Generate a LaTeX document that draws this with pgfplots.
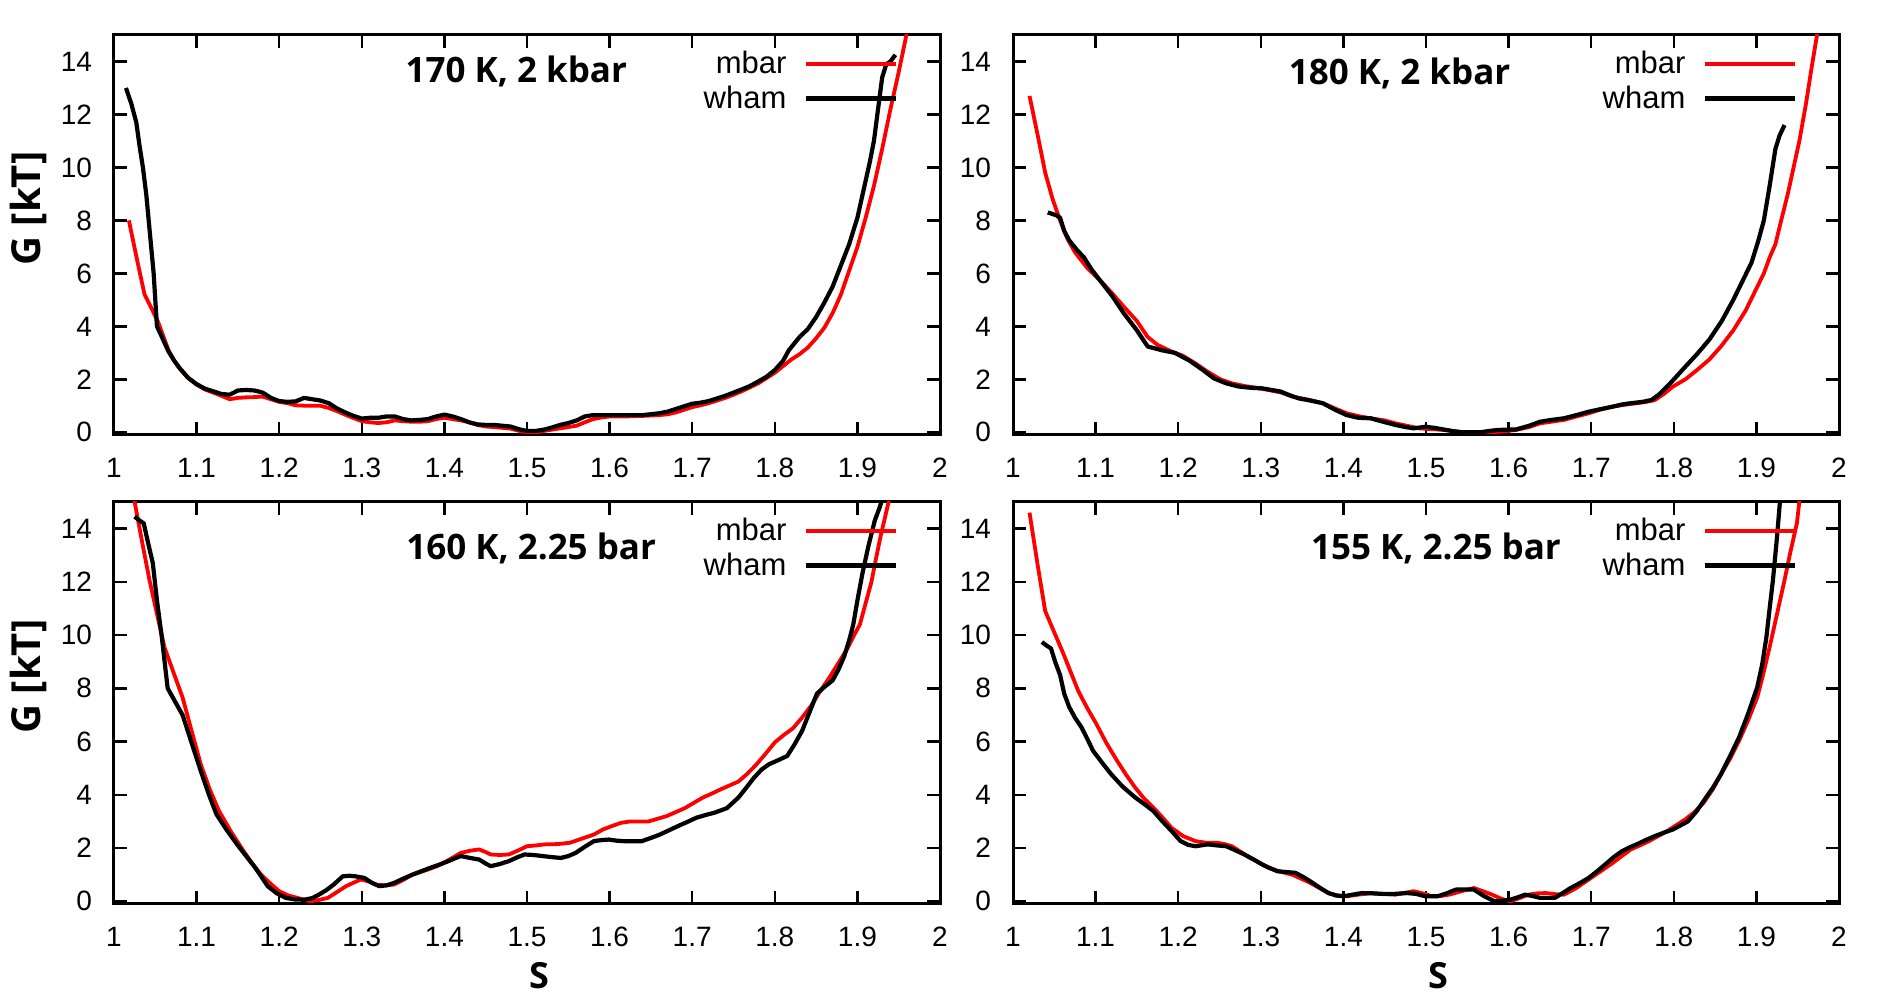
\documentclass[border=0pt]{standalone}
\usepackage{fontspec}
\setmainfont{Liberation Sans}
\newfontfamily\osans{Open Sans}
\usepackage{pgfplots}
\pgfplotsset{compat=1.18}
\definecolor{gred}{RGB}{255,0,0}
\newcommand{\ttlfont}{\osans\bfseries\fontsize{17.5}{20}\selectfont}
\newcommand{\ylfont}{\osans\bfseries\fontsize{20}{22}\selectfont}
\newcommand{\xlfont}{\osans\bfseries\fontsize{18}{20}\selectfont}
\pgfplotsset{
  gp/.style={
    scale only axis, width=413pt,
    xmin=1, xmax=2, ymin=-0.1, ymax=15,
    xtick={1,1.1,1.2,1.3,1.4,1.5,1.6,1.7,1.8,1.9,2},
    ytick={0,2,4,6,8,10,12,14},
    tick align=inside,
    axis line style={line width=1.5pt},
    every tick/.style={black, line width=1.2pt},
    major tick length=6.5pt,
    tick label style={font=\fontsize{14}{16}\selectfont},
    /pgf/number format/assume math mode=true,
    xticklabel style={yshift=-8pt},
    yticklabel style={xshift=-7.5pt},
    legend plot pos=right,
    legend cell align=right,
    legend style={draw=none, fill=none, at={(axis description cs:1,1)}, anchor=north east,
      xshift=-18pt, yshift=-4pt, font=\fontsize{15.5}{18}\selectfont, row sep=0.5pt,
      /tikz/every odd column/.style={column sep=6.5pt}},
    legend image code/.code={\draw[#1] (0pt,0pt) -- (45pt,0pt);},
    every axis plot/.append style={line width=2pt, line join=round},
    ylabel style={font=\ylfont, at={(axis description cs:-0.104,0.566)}, anchor=center},
    xlabel style={font=\xlfont, at={(axis description cs:0.515,-0.179)}, anchor=center},
  },
  mb/.style={gred, line width=1.9pt},
  wh/.style={black, line width=2.1pt},
}
\begin{document}
\begin{tikzpicture}
\useasboundingbox (0,0) rectangle (948pt,497pt);
% ---------------- top left
\begin{axis}[gp, at={(57pt,279.5pt)}, anchor=south west, height=200pt, ylabel={G [kT]}]
\addplot[mb] coordinates {(1.018,8.0)(1.028,6.5)(1.037,5.2)(1.045,4.7)(1.053,4.2)(1.06,3.6)(1.066,3.1)(1.073,2.7)(1.08,2.4)(1.09,2.05)(1.1,1.8)(1.11,1.62)(1.12,1.5)(1.13,1.38)(1.14,1.25)(1.15,1.3)(1.16,1.32)(1.17,1.33)(1.18,1.35)(1.19,1.25)(1.2,1.15)(1.21,1.1)(1.22,1.02)(1.235,1.0)(1.25,1.0)(1.26,0.92)(1.27,0.8)(1.285,0.6)(1.3,0.42)(1.31,0.38)(1.32,0.35)(1.33,0.38)(1.34,0.45)(1.35,0.42)(1.36,0.4)(1.37,0.4)(1.38,0.42)(1.39,0.5)(1.4,0.55)(1.41,0.5)(1.42,0.45)(1.43,0.38)(1.44,0.28)(1.45,0.22)(1.46,0.2)(1.47,0.17)(1.48,0.14)(1.49,0.06)(1.5,0.0)(1.51,0.0)(1.52,0.05)(1.53,0.1)(1.54,0.15)(1.55,0.2)(1.56,0.25)(1.57,0.38)(1.58,0.5)(1.59,0.56)(1.6,0.6)(1.62,0.6)(1.64,0.62)(1.66,0.65)(1.67,0.68)(1.68,0.75)(1.69,0.85)(1.7,0.95)(1.71,1.02)(1.72,1.1)(1.73,1.2)(1.74,1.3)(1.75,1.42)(1.76,1.55)(1.77,1.7)(1.78,1.85)(1.79,2.05)(1.8,2.25)(1.81,2.5)(1.82,2.75)(1.83,2.95)(1.84,3.2)(1.85,3.55)(1.86,3.95)(1.87,4.5)(1.88,5.2)(1.89,6.1)(1.9,7.0)(1.91,8.1)(1.92,9.3)(1.93,10.7)(1.94,12.2)(1.95,13.6)(1.96,15.1)(1.962,15.5)};
\addlegendentry{mbar}
\addplot[wh] coordinates {(1.0145,13.0)(1.021,12.4)(1.027,11.7)(1.031,10.8)(1.035,10.0)(1.039,9.0)(1.042,8.0)(1.045,7.0)(1.048,6.0)(1.05,5.0)(1.052,4.0)(1.058,3.6)(1.066,3.05)(1.073,2.7)(1.08,2.4)(1.09,2.05)(1.1,1.82)(1.11,1.65)(1.12,1.55)(1.13,1.45)(1.14,1.42)(1.15,1.58)(1.16,1.6)(1.17,1.58)(1.18,1.5)(1.19,1.3)(1.2,1.18)(1.21,1.15)(1.22,1.17)(1.23,1.3)(1.24,1.25)(1.25,1.2)(1.26,1.1)(1.27,0.9)(1.28,0.75)(1.29,0.62)(1.3,0.52)(1.31,0.55)(1.32,0.55)(1.33,0.6)(1.34,0.6)(1.35,0.5)(1.36,0.45)(1.37,0.47)(1.38,0.5)(1.39,0.6)(1.4,0.67)(1.41,0.6)(1.42,0.5)(1.43,0.38)(1.44,0.3)(1.45,0.28)(1.46,0.28)(1.47,0.25)(1.48,0.22)(1.49,0.12)(1.5,0.05)(1.51,0.05)(1.52,0.1)(1.53,0.18)(1.54,0.28)(1.55,0.35)(1.56,0.45)(1.57,0.6)(1.58,0.65)(1.6,0.65)(1.62,0.65)(1.64,0.65)(1.66,0.72)(1.67,0.78)(1.68,0.88)(1.69,0.98)(1.7,1.08)(1.71,1.12)(1.72,1.18)(1.73,1.28)(1.74,1.38)(1.75,1.5)(1.76,1.62)(1.77,1.75)(1.78,1.92)(1.79,2.1)(1.8,2.35)(1.81,2.7)(1.817,3.1)(1.83,3.6)(1.84,3.9)(1.85,4.35)(1.86,4.9)(1.87,5.5)(1.88,6.3)(1.89,7.1)(1.9,8.1)(1.91,9.5)(1.915,10.2)(1.92,11.0)(1.925,12.2)(1.93,13.4)(1.935,13.9)(1.94,14.0)(1.946,14.25)};
\addlegendentry{wham}
\node[font=\ttlfont, anchor=base] at (axis description cs:0.487,0.88) {170 K, 2 kbar};
\end{axis}
% ---------------- top right
\begin{axis}[gp, at={(506.5pt,279.5pt)}, anchor=south west, height=200pt]
\addplot[mb] coordinates {(1.02,12.7)(1.03,11.2)(1.039,9.8)(1.048,8.8)(1.057,8.0)(1.066,7.3)(1.075,6.8)(1.09,6.2)(1.105,5.75)(1.12,5.25)(1.134,4.75)(1.15,4.2)(1.163,3.6)(1.175,3.3)(1.192,3.05)(1.205,2.9)(1.221,2.6)(1.235,2.3)(1.251,2.0)(1.265,1.85)(1.28,1.75)(1.295,1.68)(1.309,1.6)(1.325,1.5)(1.338,1.35)(1.355,1.25)(1.375,1.1)(1.39,0.9)(1.404,0.72)(1.42,0.6)(1.433,0.53)(1.45,0.45)(1.463,0.34)(1.478,0.24)(1.492,0.15)(1.507,0.12)(1.521,0.09)(1.535,0.04)(1.55,0.0)(1.58,0.0)(1.595,0.04)(1.609,0.09)(1.625,0.2)(1.638,0.34)(1.652,0.4)(1.667,0.47)(1.68,0.58)(1.697,0.72)(1.71,0.85)(1.726,0.97)(1.74,1.04)(1.755,1.1)(1.767,1.15)(1.777,1.22)(1.788,1.45)(1.799,1.73)(1.814,2.0)(1.828,2.35)(1.843,2.75)(1.857,3.24)(1.872,3.85)(1.887,4.6)(1.898,5.3)(1.909,6.0)(1.916,6.6)(1.923,7.1)(1.93,8.0)(1.938,9.0)(1.945,10.0)(1.952,11.0)(1.96,12.4)(1.967,13.8)(1.975,15.3)};
\addlegendentry{mbar}
\addplot[wh] coordinates {(1.042,8.3)(1.052,8.2)(1.057,8.1)(1.062,7.6)(1.068,7.25)(1.077,6.9)(1.086,6.6)(1.095,6.15)(1.105,5.75)(1.12,5.15)(1.134,4.5)(1.15,3.85)(1.163,3.24)(1.18,3.1)(1.196,3.0)(1.205,2.85)(1.214,2.7)(1.23,2.35)(1.243,2.04)(1.258,1.85)(1.273,1.73)(1.288,1.68)(1.302,1.66)(1.313,1.6)(1.324,1.54)(1.335,1.4)(1.346,1.28)(1.36,1.2)(1.375,1.1)(1.39,0.85)(1.404,0.65)(1.418,0.55)(1.433,0.53)(1.448,0.4)(1.463,0.28)(1.475,0.2)(1.485,0.15)(1.499,0.21)(1.51,0.17)(1.521,0.11)(1.532,0.05)(1.543,0.0)(1.565,0.0)(1.576,0.05)(1.587,0.09)(1.609,0.11)(1.625,0.25)(1.638,0.4)(1.652,0.47)(1.667,0.53)(1.682,0.65)(1.697,0.78)(1.712,0.88)(1.726,0.97)(1.737,1.05)(1.748,1.1)(1.762,1.15)(1.773,1.22)(1.783,1.45)(1.792,1.73)(1.803,2.1)(1.814,2.48)(1.828,2.95)(1.843,3.5)(1.858,4.2)(1.872,5.0)(1.883,5.7)(1.894,6.4)(1.902,7.2)(1.909,8.0)(1.916,9.3)(1.923,10.7)(1.928,11.2)(1.934,11.6)};
\addlegendentry{wham}
\node[font=\ttlfont, anchor=base] at (axis description cs:0.468,0.875) {180 K, 2 kbar};
\end{axis}
% ---------------- bottom left
\begin{axis}[gp, at={(57pt,45pt)}, anchor=south west, height=201pt, ylabel={G [kT]}, xlabel={S}]
\addplot[mb] coordinates {(1.023,15.5)(1.025,15.0)(1.034,13.5)(1.043,12.06)(1.052,10.8)(1.061,9.55)(1.072,8.6)(1.083,7.66)(1.094,6.4)(1.105,5.15)(1.116,4.2)(1.127,3.4)(1.142,2.6)(1.157,1.88)(1.168,1.4)(1.178,1.0)(1.19,0.65)(1.2,0.38)(1.211,0.22)(1.222,0.13)(1.237,0.0)(1.248,0.05)(1.259,0.13)(1.27,0.35)(1.281,0.57)(1.29,0.7)(1.299,0.82)(1.308,0.75)(1.317,0.63)(1.328,0.6)(1.339,0.63)(1.35,0.8)(1.361,1.0)(1.376,1.15)(1.391,1.32)(1.405,1.55)(1.42,1.82)(1.431,1.9)(1.442,1.95)(1.45,1.85)(1.456,1.76)(1.467,1.74)(1.478,1.76)(1.49,1.92)(1.5,2.07)(1.511,2.1)(1.522,2.14)(1.537,2.15)(1.552,2.2)(1.566,2.35)(1.581,2.51)(1.592,2.7)(1.603,2.83)(1.614,2.95)(1.625,3.0)(1.647,3.0)(1.658,3.1)(1.669,3.2)(1.68,3.35)(1.691,3.5)(1.702,3.7)(1.713,3.9)(1.724,4.05)(1.734,4.2)(1.745,4.35)(1.756,4.5)(1.767,4.8)(1.778,5.15)(1.789,5.55)(1.8,5.97)(1.811,6.25)(1.822,6.5)(1.833,6.9)(1.844,7.35)(1.855,7.9)(1.866,8.4)(1.877,8.95)(1.888,9.5)(1.896,10.0)(1.903,10.4)(1.91,11.2)(1.917,12.0)(1.922,12.8)(1.928,13.7)(1.934,14.5)(1.94,15.3)};
\addlegendentry{mbar}
\addplot[wh] coordinates {(1.025,14.45)(1.031,14.3)(1.036,14.2)(1.041,13.5)(1.047,12.7)(1.052,11.3)(1.058,9.9)(1.062,8.8)(1.065,8.0)(1.074,7.5)(1.083,7.0)(1.094,5.95)(1.105,4.9)(1.115,4.0)(1.124,3.27)(1.136,2.7)(1.149,2.14)(1.16,1.7)(1.171,1.26)(1.179,0.9)(1.186,0.57)(1.197,0.3)(1.208,0.13)(1.219,0.07)(1.23,0.06)(1.24,0.12)(1.248,0.25)(1.257,0.42)(1.266,0.63)(1.272,0.8)(1.277,0.94)(1.285,0.96)(1.292,0.94)(1.303,0.88)(1.312,0.7)(1.321,0.57)(1.33,0.6)(1.339,0.69)(1.35,0.85)(1.361,1.0)(1.372,1.13)(1.383,1.26)(1.394,1.38)(1.405,1.51)(1.413,1.62)(1.42,1.7)(1.431,1.63)(1.442,1.57)(1.45,1.42)(1.456,1.32)(1.467,1.4)(1.478,1.51)(1.488,1.65)(1.497,1.76)(1.508,1.74)(1.519,1.7)(1.53,1.66)(1.541,1.63)(1.55,1.7)(1.559,1.82)(1.57,2.05)(1.581,2.26)(1.59,2.3)(1.599,2.32)(1.608,2.28)(1.617,2.26)(1.628,2.26)(1.639,2.26)(1.65,2.38)(1.661,2.51)(1.672,2.67)(1.683,2.83)(1.694,2.98)(1.705,3.14)(1.716,3.24)(1.727,3.33)(1.735,3.42)(1.742,3.5)(1.749,3.7)(1.756,3.9)(1.765,4.25)(1.775,4.65)(1.784,4.95)(1.793,5.15)(1.804,5.3)(1.815,5.46)(1.824,5.9)(1.833,6.4)(1.842,7.1)(1.851,7.8)(1.86,8.05)(1.87,8.3)(1.877,8.7)(1.884,9.2)(1.89,9.8)(1.895,10.4)(1.9,11.3)(1.906,12.3)(1.913,13.3)(1.921,14.3)(1.927,14.8)(1.932,15.3)};
\addlegendentry{wham}
\node[font=\ttlfont, anchor=base] at (axis description cs:0.505,0.856) {160 K, 2.25 bar};
\end{axis}
% ---------------- bottom right
\begin{axis}[gp, at={(506.5pt,45pt)}, anchor=south west, height=201pt, xlabel={S}]
\addplot[mb] coordinates {(1.02,14.6)(1.03,12.6)(1.039,10.9)(1.05,10.1)(1.061,9.3)(1.07,8.6)(1.079,7.9)(1.09,7.25)(1.101,6.66)(1.113,5.95)(1.126,5.28)(1.137,4.75)(1.148,4.27)(1.159,3.85)(1.17,3.52)(1.181,3.15)(1.192,2.76)(1.206,2.45)(1.221,2.26)(1.234,2.2)(1.247,2.2)(1.256,2.15)(1.265,2.07)(1.276,1.85)(1.287,1.63)(1.298,1.45)(1.309,1.26)(1.323,1.12)(1.338,1.0)(1.349,0.85)(1.36,0.69)(1.371,0.5)(1.382,0.31)(1.393,0.22)(1.404,0.19)(1.418,0.25)(1.433,0.31)(1.448,0.27)(1.463,0.25)(1.474,0.32)(1.485,0.38)(1.496,0.3)(1.507,0.19)(1.518,0.2)(1.528,0.25)(1.543,0.38)(1.558,0.5)(1.569,0.38)(1.58,0.25)(1.591,0.1)(1.602,0.0)(1.613,0.12)(1.624,0.25)(1.635,0.3)(1.645,0.31)(1.656,0.27)(1.667,0.25)(1.682,0.5)(1.697,0.82)(1.711,1.12)(1.726,1.44)(1.737,1.7)(1.748,1.95)(1.759,2.1)(1.77,2.26)(1.781,2.45)(1.792,2.64)(1.803,2.86)(1.814,3.08)(1.825,3.35)(1.836,3.7)(1.847,4.2)(1.857,4.77)(1.868,5.35)(1.879,6.03)(1.89,6.8)(1.901,7.66)(1.908,8.5)(1.916,9.55)(1.925,10.8)(1.934,12.06)(1.941,13.1)(1.949,14.2)(1.953,15.3)};
\addlegendentry{mbar}
\addplot[wh] coordinates {(1.035,9.74)(1.041,9.6)(1.046,9.5)(1.051,9.0)(1.057,8.5)(1.062,7.8)(1.068,7.3)(1.075,6.9)(1.083,6.53)(1.09,6.1)(1.097,5.65)(1.108,5.2)(1.119,4.77)(1.133,4.3)(1.148,3.9)(1.159,3.65)(1.17,3.39)(1.181,3.0)(1.192,2.64)(1.203,2.26)(1.212,2.12)(1.221,2.07)(1.236,2.14)(1.247,2.1)(1.258,2.07)(1.269,1.92)(1.28,1.76)(1.291,1.58)(1.302,1.38)(1.311,1.25)(1.32,1.13)(1.331,1.1)(1.342,1.07)(1.351,0.92)(1.36,0.75)(1.371,0.52)(1.382,0.31)(1.391,0.22)(1.4,0.19)(1.411,0.25)(1.422,0.31)(1.435,0.3)(1.448,0.28)(1.462,0.28)(1.477,0.31)(1.488,0.28)(1.499,0.19)(1.514,0.19)(1.525,0.3)(1.536,0.44)(1.547,0.45)(1.558,0.44)(1.57,0.2)(1.583,0.0)(1.593,0.02)(1.602,0.06)(1.611,0.15)(1.62,0.25)(1.629,0.2)(1.638,0.13)(1.656,0.13)(1.665,0.3)(1.675,0.5)(1.686,0.68)(1.697,0.88)(1.708,1.15)(1.719,1.44)(1.728,1.68)(1.737,1.88)(1.746,2.02)(1.755,2.14)(1.766,2.3)(1.777,2.45)(1.788,2.58)(1.799,2.7)(1.808,2.85)(1.817,3.0)(1.828,3.4)(1.839,3.9)(1.848,4.3)(1.857,4.77)(1.868,5.45)(1.879,6.16)(1.89,7.05)(1.901,8.04)(1.907,8.9)(1.912,9.9)(1.916,11.0)(1.92,12.06)(1.925,13.7)(1.929,15.2)};
\addlegendentry{wham}
\node[font=\ttlfont, anchor=base] at (axis description cs:0.512,0.856) {155 K, 2.25 bar};
\end{axis}
\end{tikzpicture}
\end{document}
